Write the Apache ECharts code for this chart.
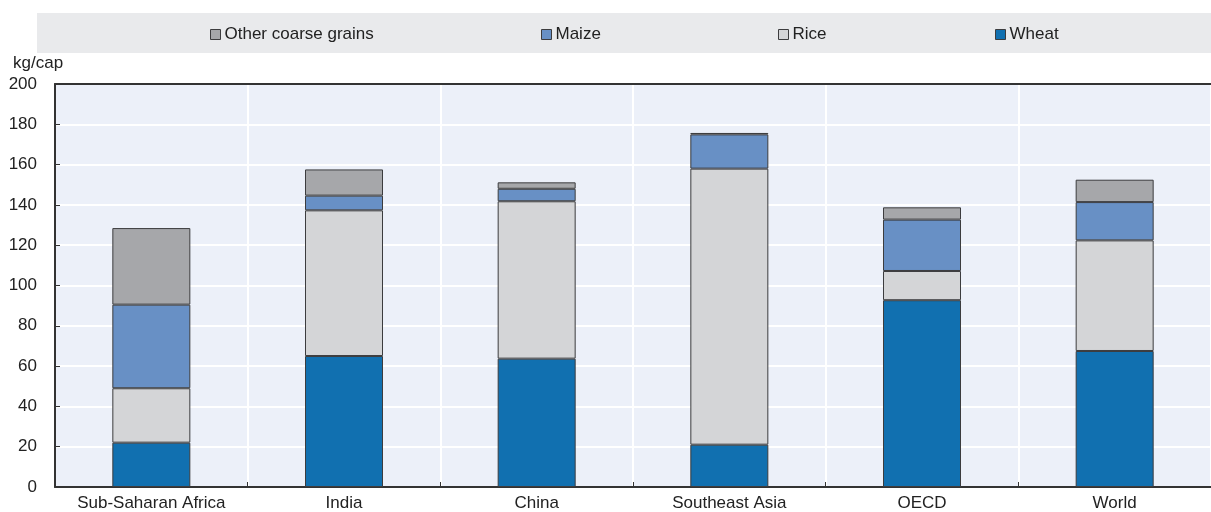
<!DOCTYPE html>
<html>
<head>
<meta charset="utf-8">
<script src="https://cdn.jsdelivr.net/npm/echarts@6/dist/echarts.min.js"></script>
<style>
html,body{margin:0;padding:0;background:#fff;}
#chart{width:1211px;height:512px;}
</style>
</head>
<body>
<div id="chart"></div>
<script>
const categories = ["Sub-Saharan Africa", "India", "China", "Southeast Asia", "OECD", "World"];
const wheat = [22, 65, 63.7, 21, 92.7, 67.5];
const rice = [27, 72.3, 78.1, 137, 14.5, 54.9];
const maize = [41.5, 7.3, 6.2, 17, 25.5, 19];
const otherCoarse = [38, 13, 3.2, 0.7, 6.1, 11.1];
const yTicks = [0, 20, 40, 60, 80, 100, 120, 140, 160, 180, 200];

const FONT = "'Liberation Sans Narrow', 'Arial Narrow', 'Liberation Sans', Arial, sans-serif";
const colors = {wheat: '#1170b0', rice: '#d4d5d7', maize: '#6890c5', other: '#a6a7aa'};
const border = '#3c3c3e';

function mkSeries(name, data, color) {
  return {
    name: name, type: 'bar', stack: 'total', data: data, barWidth: 78,
    itemStyle: {color: color, borderColor: border, borderWidth: 1},
    emphasis: {disabled: true}
  };
}
function mkLegend(name, left) {
  return {
    data: [name], left: left, top: 26, padding: 0, icon: 'rect', itemWidth: 10, itemHeight: 10, itemGap: 0,
    textStyle: {fontFamily: FONT, fontSize: 17, color: '#222', padding: [0,0,0,-1]},
    itemStyle: {borderColor: border, borderWidth: 1}
  };
}

const chart = echarts.init(document.getElementById('chart'), null, {renderer: 'canvas'});
chart.setOption({
  animation: false,
  graphic: [
    {type: 'rect', shape: {x: 37, y: 13, width: 1174, height: 40}, style: {fill: '#e9eaec'}, z: -10},
    {type: 'text', left: 13, top: 55, style: {text: 'kg/cap', font: '17px ' + FONT, fill: '#222'}}
  ],
  legend: [
    mkLegend('Other coarse grains', 210),
    mkLegend('Maize', 541),
    mkLegend('Rice', 778),
    mkLegend('Wheat', 995)
  ],
  grid: {left: 55, right: 0, top: 84, bottom: 25, show: true, backgroundColor: '#ecf0f9', borderWidth: 0},
  xAxis: [
    {
      type: 'category', data: categories, position: 'bottom',
      axisLine: {lineStyle: {color: '#333', width: 2}},
      axisTick: {show: true, inside: true, length: 5, interval: 0, lineStyle: {color: '#333'}},
      axisLabel: {fontFamily: FONT, fontSize: 17, color: '#222', margin: 8, interval: 0},
      splitLine: {show: true, interval: 0, lineStyle: {color: '#ffffff', width: 2}}
    },
    {
      type: 'category', data: categories, position: 'top',
      axisLine: {lineStyle: {color: '#333', width: 2}},
      axisTick: {show: false}, axisLabel: {show: false}, splitLine: {show: false}
    }
  ],
  yAxis: {
    type: 'value', min: 0, max: 200, interval: 20,
    axisLine: {show: true, lineStyle: {color: '#333', width: 2}},
    axisTick: {show: true, inside: true, length: 5, lineStyle: {color: '#333'}},
    axisLabel: {fontFamily: FONT, fontSize: 17, color: '#222', margin: 18,
      formatter: v => yTicks.includes(v) ? String(v) : ''},
    splitLine: {show: true, lineStyle: {color: '#ffffff', width: 2}}
  },
  series: [
    mkSeries('Wheat', wheat, colors.wheat),
    mkSeries('Rice', rice, colors.rice),
    mkSeries('Maize', maize, colors.maize),
    mkSeries('Other coarse grains', otherCoarse, colors.other)
  ]
});
</script>
</body>
</html>
